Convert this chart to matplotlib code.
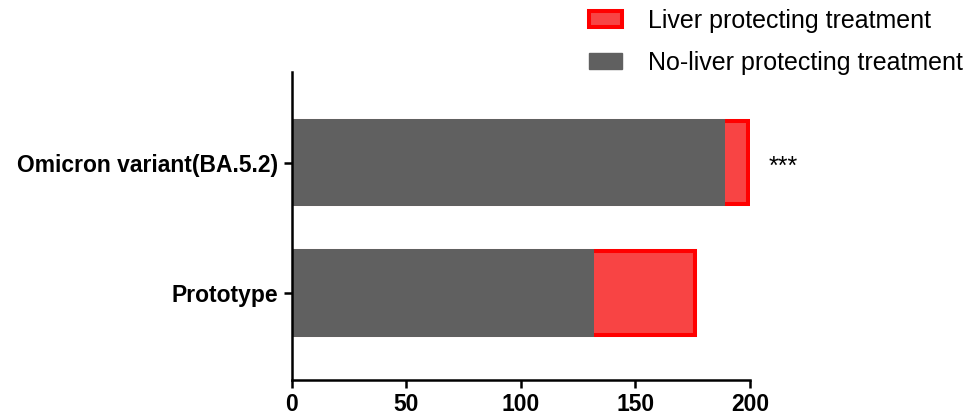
import matplotlib.pyplot as plt
from matplotlib.patches import Patch

plt.rcParams['font.family'] = ['Liberation Sans', 'DejaVu Sans']

categories = ["Prototype", "Omicron variant(BA.5.2)"]
no_liver = [132, 189]
liver = [44, 10]
x_ticks = [0, 50, 100, 150, 200]
marks = ["", "***"]

grey = "#606060"
red_fill = "#F84444"
red_edge = "#FF0000"

fig = plt.figure(figsize=(9.69, 4.2), dpi=100)
ax = fig.add_axes([0.301, 0.095, 0.473, 0.734])

pos = list(range(len(categories)))
totals = [n + l for n, l in zip(no_liver, liver)]
# red bar drawn from 0 so the grey bar on top hides its left edge
ax.barh(pos, totals, height=0.64, color=red_fill,
        edgecolor=red_edge, linewidth=2.9, zorder=2)
ax.barh(pos, no_liver, height=0.67, color=grey, linewidth=0, zorder=3)

for p, t, m in zip(pos, totals, marks):
    if m:
        ax.text(t + 9, p - 0.03, m, va="center", ha="left", fontsize=18, zorder=4)

ax.set_xlim(0, 200)
ax.set_ylim(-0.67, 1.7)
ax.set_xticks(x_ticks)
ax.set_yticks(pos)
ax.set_yticklabels(categories)
for lab in ax.get_xticklabels() + ax.get_yticklabels():
    lab.set_fontweight("bold")
    lab.set_fontsize(16.5)

for s in ["top", "right"]:
    ax.spines[s].set_visible(False)
for s in ["left", "bottom"]:
    ax.spines[s].set_linewidth(1.8)
    ax.spines[s].set_zorder(5)
ax.tick_params(width=1.8, length=6)

handles = [Patch(facecolor=red_fill, edgecolor=red_edge, linewidth=2.9),
           Patch(facecolor=grey, edgecolor=grey)]
fig.legend(handles, ["Liver protecting treatment", "No-liver protecting treatment"],
           loc="upper left", bbox_to_anchor=(589 / 969, 1 - 9 / 420), frameon=False,
           borderpad=0, borderaxespad=0,
           fontsize=18, handlelength=1.32, handleheight=0.6, handletextpad=1.04,
           labelspacing=0.72)

fig.savefig("out.png", dpi=100)
